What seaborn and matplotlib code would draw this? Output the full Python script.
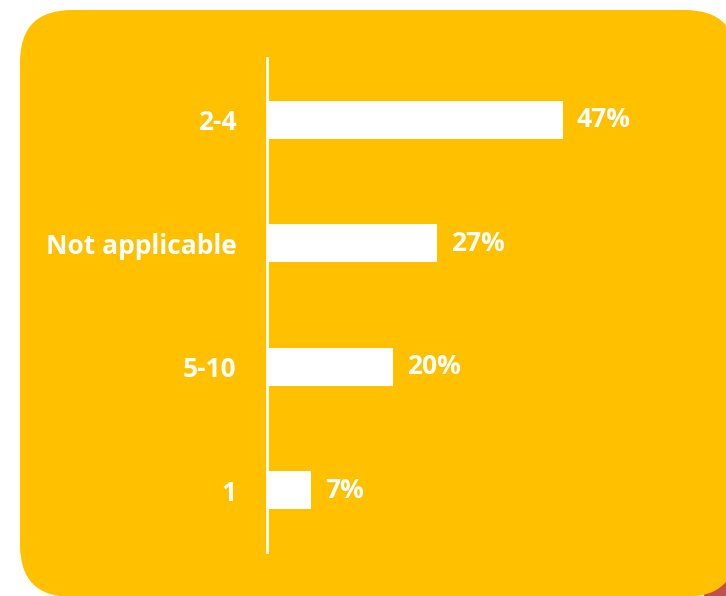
import matplotlib
matplotlib.use("Agg")
import matplotlib.pyplot as plt
from matplotlib.patches import FancyBboxPatch, Rectangle
import seaborn as sns
import pandas as pd

categories = ["2-4", "Not applicable", "5-10", "1"]
shares = [47, 27, 20, 7]
value_labels = ["47%", "27%", "20%", "7%"]

YELLOW = "#FFC000"
RED = "#C0504D"

sns.set_theme(style="white")
plt.rcParams["font.family"] = ["Open Sans", "DejaVu Sans"]

W, H = 726, 596
fig = plt.figure(figsize=(W / 100, H / 100), dpi=100)
fig.patch.set_facecolor("white")

# background layer in pixel units (y pointing down)
bg = fig.add_axes([0, 0, 1, 1])
bg.set_xlim(0, W)
bg.set_ylim(H, 0)
bg.axis("off")
bg.add_patch(Rectangle((704, 570), 40, 40, facecolor=RED, edgecolor="none", zorder=0))
bg.add_patch(FancyBboxPatch((20, 10), 717, 587,
                            boxstyle="round,pad=0,rounding_size=52",
                            facecolor=YELLOW, edgecolor="none", zorder=1))

# bar chart
ax_left, ax_top, ax_bottom = 267, 58, 552
ax = fig.add_axes([ax_left / W, 1 - ax_bottom / H, 420 / W, (ax_bottom - ax_top) / H])
ax.set_facecolor("none")

df = pd.DataFrame({"category": categories, "share": shares})
sns.barplot(data=df, x="share", y="category", orient="h", color="white",
            saturation=1, width=0.31, ax=ax, edgecolor="none")

ax.set_xlim(0, 420 / 6.3)
ax.set_ylim(3.5, -0.5)
ax.set_xlabel("")
ax.set_ylabel("")
ax.set_xticks([])

for side in ["top", "right", "bottom"]:
    ax.spines[side].set_visible(False)
ax.spines["left"].set_color("white")
ax.spines["left"].set_linewidth(2)

ax.tick_params(axis="y", length=0, pad=22, labelcolor="white", labelsize=19)
for lbl in ax.get_yticklabels():
    lbl.set_fontweight("bold")

for i, (v, txt) in enumerate(zip(shares, value_labels)):
    ax.annotate(txt, xy=(v, i), xytext=(10, 0), textcoords="offset points",
                ha="left", va="center", color="white", fontsize=19,
                fontweight="bold")

fig.savefig("out.png", dpi=100)
